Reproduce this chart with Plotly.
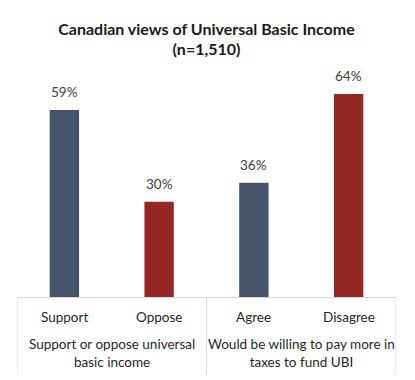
import plotly.graph_objects as go

categories = ["Support", "Oppose", "Agree", "Disagree"]
values = [59, 30, 36, 64]
colors = ["#44546A", "#942723", "#44546A", "#942723"]
groups = ["Support or oppose universal<br>basic income", "Would be willing to pay more in<br>taxes to fund UBI"]
group_spans = [(0, 1), (2, 3)]
title = "<b>Canadian views of Universal Basic Income<br>(n=1,510)</b>"

FONT = "Lato"
W, HT = 407, 372
fig = go.Figure()
fig.add_trace(go.Bar(
    x=list(range(len(categories))), y=values,
    marker=dict(color=colors, line=dict(width=0)),
    width=0.31, hoverinfo="skip",
))

H = 222.0
def py(pix_below):  # paper y for pixels below axis
    return -pix_below / H

annotations = []
for i, (c, v) in enumerate(zip(categories, values)):
    annotations.append(dict(x=i, y=v, xref="x", yref="y", text=f"{v}%", showarrow=False,
                            yanchor="bottom", yshift=8, font=dict(size=13.5, color="#404040", family=FONT)))
    annotations.append(dict(x=i, y=py(20), xref="x", yref="paper", text=c, showarrow=False,
                            yanchor="middle", font=dict(size=13.5, color="#262626", family=FONT)))
for g, (a, b) in zip(groups, group_spans):
    annotations.append(dict(x=(a + b) / 2, y=py(56), xref="x", yref="paper", text=g, showarrow=False,
                            yanchor="middle", font=dict(size=13.5, color="#262626", family=FONT)))

shapes = []
for xd in [-0.5, 1.5, 3.5]:
    shapes.append(dict(type="line", xref="x", yref="paper", x0=xd, x1=xd, y0=0, y1=py(78),
                       line=dict(color="#d9d9d9", width=1)))

fig.update_layout(
    width=W, height=HT,
    margin=dict(l=9, r=19, t=67, b=83),
    paper_bgcolor="white", plot_bgcolor="white",
    showlegend=False,
    title=dict(text=title, x=0.5, xref="paper", xanchor="center", y=1 - 26.5/HT, yanchor="middle",
               font=dict(size=16, color="#1a1a1a", family=FONT)),
    xaxis=dict(range=[-0.5, 3.5], showticklabels=False, ticks="", showgrid=False, zeroline=False,
               showline=True, linecolor="#d9d9d9", linewidth=1),
    yaxis=dict(range=[0, 70], visible=False),
    annotations=annotations, shapes=shapes,
)
fig.write_html("out.html")
